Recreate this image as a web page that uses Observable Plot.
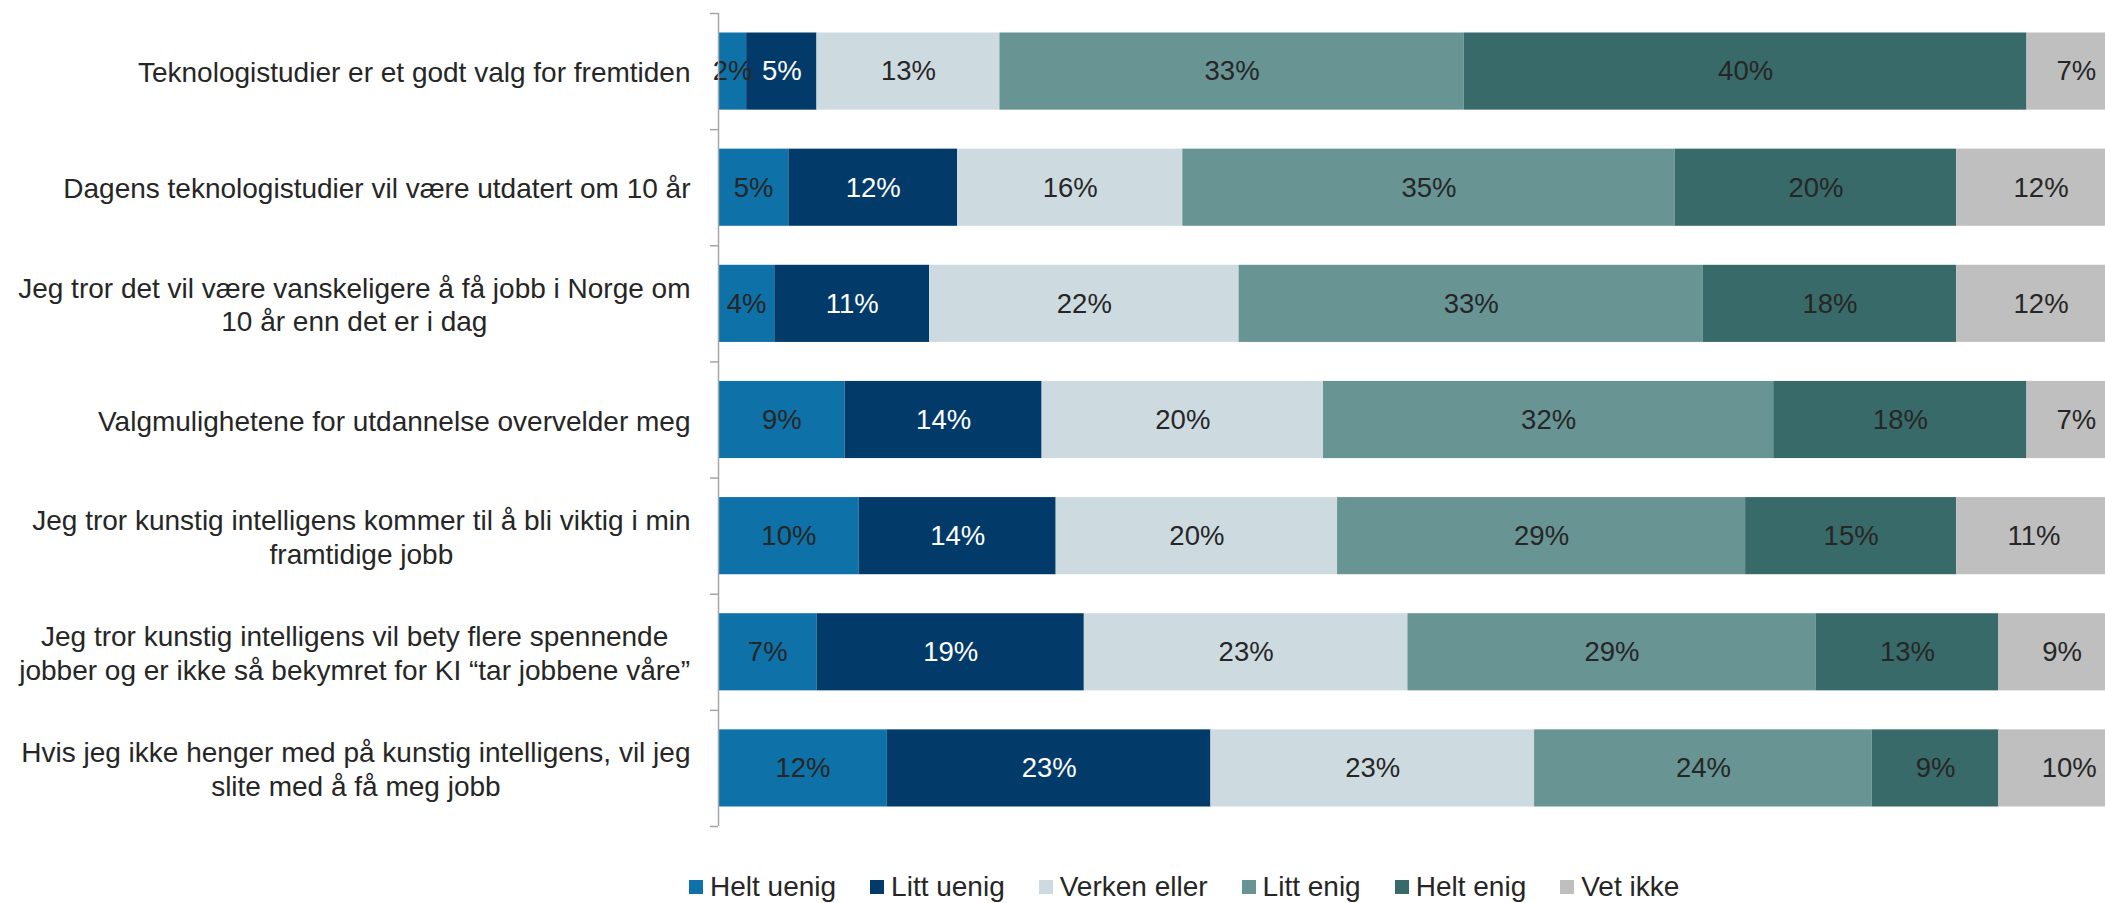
<!DOCTYPE html>
<html><head><meta charset="utf-8">
<script src="https://cdn.jsdelivr.net/npm/d3@7"></script>
<script src="https://cdn.jsdelivr.net/npm/@observablehq/plot@0.6"></script>
<style>
html,body{margin:0;padding:0;background:#fff;overflow:hidden;width:2105px;height:903px;}
#chart svg{display:block;overflow:hidden;}
#legend{margin-top:11px;}
#legend .lg-swatches-wrap{justify-content:flex-start;padding-left:689px;margin:0;font-family:"Liberation Sans",Arial,sans-serif;font-size:28px;color:#262626;min-height:0;line-height:1.15;}
#legend .lg-swatch{margin-right:34px;}
#legend .lg-swatch > svg{margin-right:7px;}
</style></head><body>
<div id="chart"></div><div id="legend"></div>
<script>
const categories = [
  "Teknologistudier er et godt valg for fremtiden",
  "Dagens teknologistudier vil være utdatert om 10 år",
  "Jeg tror det vil være vanskeligere å få jobb i Norge om\n10 år enn det er i dag",
  "Valgmulighetene for utdannelse overvelder meg",
  "Jeg tror kunstig intelligens kommer til å bli viktig i min\nframtidige jobb",
  "Jeg tror kunstig intelligens vil bety flere spennende\njobber og er ikke så bekymret for KI “tar jobbene våre”",
  "Hvis jeg ikke henger med på kunstig intelligens, vil jeg\nslite med å få meg jobb"
];
const series = ["Helt uenig", "Litt uenig", "Verken eller", "Litt enig", "Helt enig", "Vet ikke"];
const seriesColors = ["#0E71A7", "#023B6A", "#CDDBE1", "#689494", "#386A69", "#BFBFBF"];

const heltUenig   = [2, 5, 4, 9, 10, 7, 12];
const littUenig   = [5, 12, 11, 14, 14, 19, 23];
const verkenEller = [13, 16, 22, 20, 20, 23, 23];
const littEnig    = [33, 35, 33, 32, 29, 29, 24];
const heltEnig    = [40, 20, 18, 18, 15, 13, 9];
const vetIkke     = [7, 12, 12, 7, 11, 9, 10];

const values = [heltUenig, littUenig, verkenEller, littEnig, heltEnig, vetIkke];

const rows = [];
categories.forEach((c, i) => {
  let acc = 0;
  series.forEach((s, j) => {
    const v = values[j][i];
    rows.push({row: i, series: s, value: v, x1: acc, x2: acc + v});
    acc += v;
  });
});

const font = "'Liberation Sans', Arial, sans-serif";

const plot = Plot.plot({
  width: 2105,
  height: 860,
  marginLeft: 718,
  marginRight: 0,
  marginTop: 0,
  marginBottom: 0,
  style: {fontFamily: font, fontSize: "28px", background: "#fff", overflow: "hidden"},
  x: {domain: [0, 100], range: [718, 2125], axis: null},
  y: {domain: [0, 7], range: [13, 826], axis: null},
  color: {domain: series, range: seriesColors},
  marks: [
    Plot.rect(rows, {x1: "x1", x2: "x2", y1: d => d.row, y2: d => d.row + 1, insetTop: 19.5, insetBottom: 19.5, fill: "series"}),
    Plot.text(rows, {filter: d => d.series !== "Litt uenig", x: d => (d.x1 + d.x2) / 2, y: d => d.row + 0.5, text: d => d.value + "%", fill: "#262626", fontSize: 27.5}),
    Plot.text(rows, {filter: d => d.series === "Litt uenig", x: d => (d.x1 + d.x2) / 2, y: d => d.row + 0.5, text: d => d.value + "%", fill: "#ffffff", fontSize: 27.5}),
    Plot.ruleX([0], {y1: 0, y2: 7, stroke: "#A6A6A6", strokeWidth: 1.5}),
    Plot.axisY(d3.range(8), {tickSize: 8, tickFormat: () => "", stroke: "#A6A6A6", strokeWidth: 1.5, label: null}),
    Plot.text(categories, {x: 0, y: (d, i) => i + 0.5, text: d => d, dx: -28, textAnchor: "end", lineHeight: 1.2, fontSize: 28, fill: "#262626"})
  ]
});

document.getElementById("chart").append(plot);

// Multi-line category labels: block right-aligned, lines centred on each other
plot.querySelectorAll("text").forEach(t => {
  const spans = t.querySelectorAll("tspan");
  if (spans.length > 1) {
    const w = t.getBBox().width;
    t.setAttribute("text-anchor", "middle");
    t.style.textAnchor = "middle";
    spans.forEach(s => {
      const x0 = +(s.getAttribute("x") || 0);
      s.setAttribute("x", x0 - w / 2);
    });
  }
});

const leg = Plot.legend({
  color: {domain: series, range: seriesColors},
  swatchSize: 14,
  className: "lg",
  style: {fontFamily: font, fontSize: "28px"}
});
document.getElementById("legend").append(leg);
</script>
</body></html>
